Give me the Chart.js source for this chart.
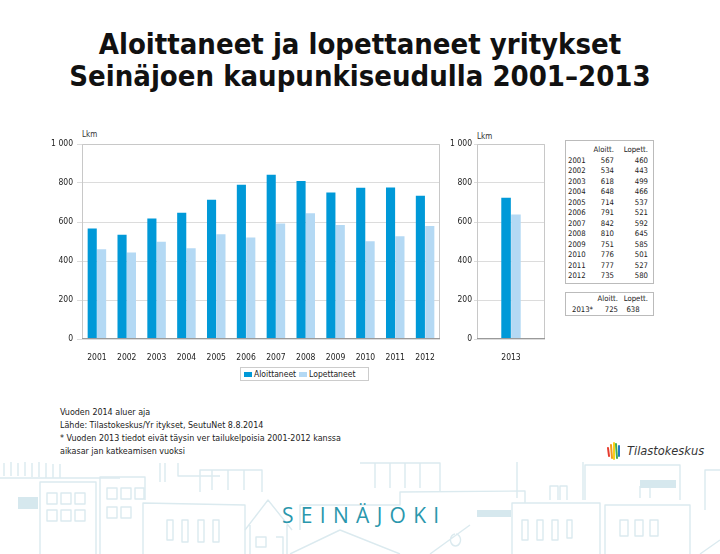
<!DOCTYPE html>
<html>
<head>
<meta charset="utf-8">
<script src="https://cdn.jsdelivr.net/npm/chart.js@4/dist/chart.umd.min.js"></script>
<style>
  html, body { margin:0; padding:0; background:#fff; }
  body { width:720px; height:554px; position:relative; overflow:hidden; font-family:"DejaVu Sans Condensed","DejaVu Sans",sans-serif; color:#222; }
  .title { position:absolute; left:0; width:720px; text-align:center; font-family:"DejaVu Sans Condensed","DejaVu Sans",sans-serif; font-weight:bold; font-size:29px; color:#111; line-height:32px; white-space:nowrap; }
  .abs { position:absolute; white-space:nowrap; }
  .lkm { font-size:8px; color:#333; }
  .tbl { position:absolute; border:1px solid #bbb; background:#fff; font-size:7.7px; color:#222; }
  .tbl table { border-collapse:collapse; }
  .tbl td { padding:0; height:10.5px; line-height:10.5px; }
  .legend { position:absolute; left:240px; top:367px; width:127px; height:12px; border:1px solid #ccc; font-size:8.5px; line-height:12px; }
  .sw { display:inline-block; width:8px; height:5px; margin:0 2px 1px 3px; vertical-align:middle; }
  .notes { position:absolute; left:60px; top:406px; font-size:8.9px; line-height:13px; color:#222; }
  #c1 { position:absolute; left:40px; top:130px; }
  #c2 { position:absolute; left:432px; top:130px; }
</style>
</head>
<body>
<svg class="abs" style="left:0;top:0" width="720" height="554" viewBox="0 0 720 554">
  <g fill="none" stroke="#dbeaef" stroke-width="1.4" stroke-linejoin="round">
    <path d="M4 476 V463 M11 476 V462 M18 476 V463 M25 476 V462 M32 477 V463 M39 477 V462 M46 478 V463 M53 478 V464 M60 478 V464"/>
    <path d="M0 478 H120 M40 554 V482 H96 V554"/>
    <path d="M47 493 h10 v11 h-10z M61 493 h10 v11 h-10z M75 493 h10 v11 h-10z M47 510 h10 v11 h-10z M61 510 h10 v11 h-10z M75 510 h10 v11 h-10z"/>
    <path d="M100 554 V477 H145 V500"/>
    <path d="M107 488 h10 v11 h-10z M121 488 h10 v11 h-10z M135 488 h9 v11 h-9z M107 507 h10 v11 h-10z M121 507 h10 v11 h-10z"/>
    <path d="M143 554 V503 L245 505 V554"/>
    <path d="M167 520 v20 h6 v-20z M182 520 v22 h6 v-22z M198 520 v22 h6 v-22z M213 520 v22 h6 v-22z"/>
    <path d="M200 492 V470 H262 V492 M212 470 V490 M228 470 V490 M244 470 V490"/>
    <path d="M160 463 V482 M165 463 V482 M178 463 V476 H220"/>
    <path d="M245 530 L268 500 L292 530 M250 554 V525 M287 554 V525 M256 537 h10 v10 h-10z M276 537 h7 v17"/>
    <path d="M290 554 L340 530 L400 554 M300 530 V505 H400 V492 L525 491 V503"/>
    <path d="M360 463 H440 V492 M375 463 V488 M390 463 V488 M405 463 V488 M420 463 V488"/>
    <path d="M517 462 V498 M583 462 V500"/>
    <path d="M512 554 V503 H600 V554 M522 520 v20 h6 v-20z M537 520 v20 h6 v-20z M552 520 v20 h6 v-20z M567 520 v18 h5 v-18z"/>
    <path d="M550 500 V486 h8 v14 M560 500 V486 h7 v14"/>
    <path d="M585 500 V465 H680 V500 M605 554 V505 H690 V554 M620 520 v16 h8 v-16z M635 520 v16 h8 v-16z M650 520 v16 h8 v-16z"/>
    <path d="M700 554 L720 540 M705 510 V470 H720 M640 498 V486 M650 498 V486"/>
    <path d="M430 554 L470 525 M455 534 a5 6 0 1 0 1 0"/>
  </g>
  <g fill="#d6e8ee">
    <rect x="18" y="497" width="20" height="12"/>
    <rect x="477" y="510" width="34" height="7"/>
    <rect x="640" y="480" width="36" height="8"/>
  </g>
</svg>

<div class="title" style="top:28px">Aloittaneet ja lopettaneet yritykset</div>
<div class="title" style="top:60px">Seinäjoen kaupunkiseudulla 2001–2013</div>

<div class="abs lkm" style="left:82px;top:130px">Lkm</div>
<div class="abs lkm" style="left:477px;top:132px">Lkm</div>

<canvas id="c1" width="405" height="235"></canvas>
<canvas id="c2" width="118" height="235"></canvas>

<div class="tbl" style="left:565px;top:140px;width:87px;height:142px;">
  <table id="t1" style="margin:4px 0 0 2px;"></table>
</div>
<div class="tbl" style="left:565px;top:292px;width:87px;height:22px;">
  <table id="t2" style="margin:1px 0 0 6px;"></table>
</div>

<div class="legend"><span class="sw" style="background:#0099d8"></span>Aloittaneet<span class="sw" style="background:#b4d9f4"></span>Lopettaneet</div>

<div class="notes">Vuoden 2014 aluer aja<br>Lähde: Tilastokeskus/Yr itykset, SeutuNet 8.8.2014<br>* Vuoden 2013 tiedot eivät täysin ver tailukelpoisia 2001-2012 kanssa<br>aikasar jan katkeamisen vuoksi</div>

<svg class="abs" style="left:606px;top:441px" width="16" height="20" viewBox="0 0 16 20">
  <g stroke-width="2" stroke-linecap="round">
    <line x1="2" y1="7" x2="3" y2="15" stroke="#e63b2e"/>
    <line x1="5" y1="4" x2="6" y2="17" stroke="#f29a1d"/>
    <line x1="8" y1="2" x2="8" y2="18" stroke="#f7d21b"/>
    <line x1="10" y1="3" x2="11" y2="17" stroke="#48b04a"/>
    <line x1="13" y1="5" x2="13" y2="15" stroke="#1f78c8"/>
  </g>
</svg>
<div class="abs" style="left:627px;top:443px;font-family:'DejaVu Sans Condensed',sans-serif;font-style:italic;font-size:12.7px;color:#333;">Tilastokeskus</div>

<div class="abs" style="left:282px;top:501px;font-family:'Open Sans',sans-serif;font-size:21px;letter-spacing:7.3px;color:#2a97ad;">SEINÄJOKI</div>

<script>
const years = ['2001','2002','2003','2004','2005','2006','2007','2008','2009','2010','2011','2012'];
const aloittaneet = [567,534,618,648,714,791,842,810,751,776,777,735];
const lopettaneet = [460,443,499,466,537,521,592,645,585,501,527,580];
const year2013 = ['2013'];
const aloittaneet2013 = [725];
const lopettaneet2013 = [638];
const seriesNames = ['Aloittaneet','Lopettaneet'];
const colAloitt = '#0099d8';
const colLopett = '#b4d9f4';

// tables
(function(){
  const t1 = document.getElementById('t1');
  let h = '<tr><td style="width:22px"></td><td style="width:24px;text-align:right">Aloitt.</td><td style="width:34px;text-align:right">Lopett.</td></tr>';
  years.forEach((y,i)=>{
    h += '<tr><td>'+y+'</td><td style="text-align:right;padding-right:0">'+aloittaneet[i]+'</td><td style="text-align:right">'+lopettaneet[i]+'</td></tr>';
  });
  t1.innerHTML = h;
  const t2 = document.getElementById('t2');
  t2.innerHTML = '<tr><td style="width:22px"></td><td style="width:24px;text-align:right">Aloitt.</td><td style="width:30px;text-align:right">Lopett.</td></tr>' +
    '<tr><td>'+year2013[0]+'*</td><td style="text-align:right">'+aloittaneet2013[0]+'</td><td style="text-align:center">'+lopettaneet2013[0]+'</td></tr>';
})();

const frame = {
  id:'frame',
  afterDraw(chart){
    const a = chart.chartArea, ctx = chart.ctx;
    ctx.save();
    ctx.strokeStyle = '#c8c8c8'; ctx.lineWidth = 1;
    ctx.beginPath();
    ctx.moveTo(a.left+0.5, a.bottom); ctx.lineTo(a.left+0.5, a.top+0.5);
    ctx.lineTo(a.right-0.5, a.top+0.5); ctx.lineTo(a.right-0.5, a.bottom);
    ctx.stroke();
    ctx.strokeStyle = '#9a9a9a';
    ctx.beginPath(); ctx.moveTo(a.left, a.bottom-0.5); ctx.lineTo(a.right, a.bottom-0.5); ctx.stroke();
    ctx.restore();
  }
};

function makeOpts(yWidth, catPct, tickLen, pad){
  return {
    responsive:false, animation:false,
    layout:{ padding:{ top:14, right:5, left:0, bottom:0 } },
    plugins:{ legend:{display:false}, tooltip:{enabled:false} },
    scales:{
      x:{
        grid:{ display:false }, border:{ display:false },
        ticks:{ font:{ family:'DejaVu Sans Condensed', size:8.5 }, color:'#222', padding:6, maxRotation:0 },
        afterFit(s){ s.height = 26; }
      },
      y:{
        min:0, max:1000,
        grid:{ color:'#dcdcdc', drawTicks:true, tickLength:tickLen },
        border:{ display:false },
        ticks:{ stepSize:200, padding:pad, font:{ family:'DejaVu Sans Condensed', size:8.5 }, color:'#222',
          callback:v => v>=1000 ? String(v).replace(/\B(?=(\d{3})+(?!\d))/g,' ') : String(v) },
        afterFit(s){ s.width = yWidth; }
      }
    },
    datasets:{ bar:{ categoryPercentage:catPct, barPercentage:0.97 } }
  };
}

new Chart(document.getElementById('c1'), {
  type:'bar',
  data:{ labels:years, datasets:[
    { label:seriesNames[0], data:aloittaneet, backgroundColor:colAloitt },
    { label:seriesNames[1], data:lopettaneet, backgroundColor:colLopett }
  ]},
  options:makeOpts(42, 0.63, 5, 4),
  plugins:[frame]
});

new Chart(document.getElementById('c2'), {
  type:'bar',
  data:{ labels:year2013, datasets:[
    { label:seriesNames[0], data:aloittaneet2013, backgroundColor:colAloitt },
    { label:seriesNames[1], data:lopettaneet2013, backgroundColor:colLopett }
  ]},
  options:makeOpts(45, 0.29, 3, 2),
  plugins:[frame]
});
</script>
</body>
</html>
